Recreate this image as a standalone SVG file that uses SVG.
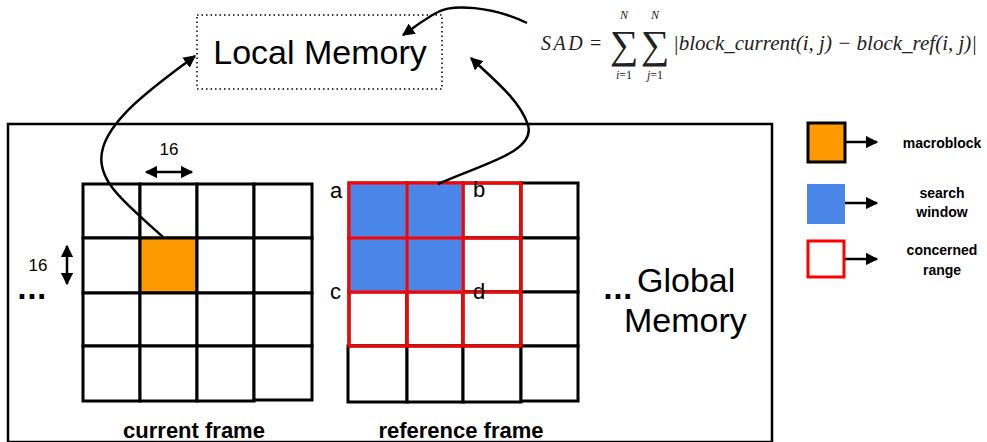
<svg xmlns="http://www.w3.org/2000/svg" width="987" height="442" viewBox="0 0 987 442">
  <style>
    .cell { fill: #ffffff; stroke: #000000; stroke-width: 3; }
    .red { fill: none; stroke: #ff0000; stroke-width: 3; }
    .conn { fill: none; stroke: #000000; stroke-width: 2.5; }
    .sans { font-family: "Liberation Sans", Arial, sans-serif; fill: #000000; }
    .bold { font-weight: bold; }
    .dots { font-family: "DejaVu Sans", "Liberation Sans", sans-serif; font-weight: bold; font-size: 26px; }
    .math { font-family: "Liberation Serif", "Times New Roman", serif; fill: #222222; }
  </style>
  <defs>
    <marker id="arrow" viewBox="0 0 10 10" refX="9" refY="5" markerWidth="5" markerHeight="5" orient="auto-start-reverse" markerUnits="strokeWidth">
      <path d="M0,0 L10,5 L0,10 Z" fill="#000000"/>
    </marker>
  </defs>
  <rect width="987" height="442" fill="#ffffff"/>

  <!-- Global memory outline -->
  <g id="global-memory">
    <rect x="8" y="124" width="764" height="318" fill="none" stroke="#000000" stroke-width="2.5"/>
    <text class="dots" x="603" y="299">...</text>
    <text class="sans" x="637" y="292" font-size="34">Global</text>
    <text class="sans" x="624" y="332" font-size="34">Memory</text>
  </g>

  <!-- Local memory (dotted) -->
  <g id="local-memory">
    <rect x="197" y="15" width="245" height="74" fill="none" stroke="#000000" stroke-width="1.5" stroke-dasharray="1.5 3"/>
    <text class="sans" x="320" y="64" font-size="34" text-anchor="middle">Local Memory</text>
  </g>

  <!-- Current frame: 4x4 grid of 16x16 blocks -->
  <g id="current-frame">
    <g>
      <rect class="cell" x="83" y="184" width="57" height="54"/>
      <rect class="cell" x="140" y="184" width="57" height="54"/>
      <rect class="cell" x="197" y="184" width="57" height="54"/>
      <rect class="cell" x="254" y="184" width="58" height="54"/>
      <rect class="cell" x="83" y="238" width="57" height="55"/>
      <rect class="cell" x="140" y="238" width="57" height="55" style="fill:#ff9900"/>
      <rect class="cell" x="197" y="238" width="57" height="55"/>
      <rect class="cell" x="254" y="238" width="58" height="55"/>
      <rect class="cell" x="83" y="293" width="57" height="53"/>
      <rect class="cell" x="140" y="293" width="57" height="53"/>
      <rect class="cell" x="197" y="293" width="57" height="53"/>
      <rect class="cell" x="254" y="293" width="58" height="53"/>
      <rect class="cell" x="83" y="346" width="57" height="55"/>
      <rect class="cell" x="140" y="346" width="57" height="55"/>
      <rect class="cell" x="197" y="346" width="57" height="55"/>
      <rect class="cell" x="254" y="346" width="58" height="54"/>
    </g>
    <text class="dots" x="17" y="299">...</text>
    <text class="sans" x="169" y="155" font-size="17" text-anchor="middle">16</text>
    <line x1="146" y1="172" x2="192" y2="172" stroke="#000" stroke-width="2.5" marker-start="url(#arrow)" marker-end="url(#arrow)"/>
    <text class="sans" x="38" y="271" font-size="17" text-anchor="middle">16</text>
    <line x1="67" y1="246" x2="67" y2="284" stroke="#000" stroke-width="2.5" marker-start="url(#arrow)" marker-end="url(#arrow)"/>
    <text class="sans bold" x="194" y="438" font-size="22" text-anchor="middle">current frame</text>
  </g>

  <!-- Reference frame: search window and concerned range -->
  <g id="reference-frame">
    <g>
      <rect class="cell" x="349" y="183" width="58" height="55"/>
      <rect class="cell" x="407" y="183" width="56" height="55"/>
      <rect class="cell" x="463" y="183" width="58" height="55"/>
      <rect class="cell" x="521" y="183" width="57" height="55"/>
      <rect class="cell" x="349" y="238" width="58" height="54"/>
      <rect class="cell" x="407" y="238" width="56" height="54"/>
      <rect class="cell" x="463" y="238" width="58" height="54"/>
      <rect class="cell" x="521" y="238" width="57" height="54"/>
      <rect class="cell" x="349" y="292" width="58" height="54"/>
      <rect class="cell" x="407" y="292" width="56" height="54"/>
      <rect class="cell" x="463" y="292" width="58" height="54"/>
      <rect class="cell" x="521" y="292" width="57" height="54"/>
      <rect class="cell" x="348" y="346" width="59" height="56"/>
      <rect class="cell" x="407" y="346" width="56" height="56"/>
      <rect class="cell" x="463" y="346" width="58" height="56"/>
      <rect class="cell" x="521" y="346" width="57" height="55"/>
    </g>
    <rect x="349" y="183" width="114" height="109" fill="#4a86e8"/>
    <g class="red">
      <rect x="349" y="183" width="172" height="163"/>
      <line x1="407" y1="183" x2="407" y2="346"/>
      <line x1="463" y1="183" x2="463" y2="346"/>
      <line x1="349" y1="238" x2="521" y2="238"/>
      <line x1="349" y1="292" x2="521" y2="292"/>
    </g>
    <text class="sans" x="330" y="198" font-size="22">a</text>
    <text class="sans" x="473" y="197" font-size="22">b</text>
    <text class="sans" x="330" y="299" font-size="22">c</text>
    <text class="sans" x="473" y="299" font-size="22">d</text>
    <text class="sans bold" x="461" y="438" font-size="22" text-anchor="middle">reference frame</text>
  </g>

  <!-- SAD formula -->
  <g id="sad-formula" class="math">
    <text x="541" y="50" font-size="20" font-style="italic" letter-spacing="2.5">SAD</text>
    <text x="590" y="50" font-size="20">=</text>
    <text x="624" y="58" font-size="40" text-anchor="middle">∑</text>
    <text x="624" y="19" font-size="12" font-style="italic" text-anchor="middle">N</text>
    <text x="624" y="79" font-size="12" text-anchor="middle"><tspan font-style="italic">i</tspan>=1</text>
    <text x="655" y="58" font-size="40" text-anchor="middle">∑</text>
    <text x="655" y="19" font-size="12" font-style="italic" text-anchor="middle">N</text>
    <text x="655" y="79" font-size="12" text-anchor="middle"><tspan font-style="italic">j</tspan>=1</text>
    <text x="673" y="50" font-size="21" font-style="italic">|block_current(i, j) − block_ref(i, j)|</text>
  </g>

  <!-- Legend -->
  <g id="legend-macroblock">
    <rect x="808" y="123" width="37" height="39" fill="#ff9900" stroke="#000" stroke-width="3"/>
    <line x1="845" y1="142" x2="877" y2="142" stroke="#000" stroke-width="2.5" marker-end="url(#arrow)"/>
    <text class="sans bold" x="942" y="148" font-size="14" text-anchor="middle">macroblock</text>
  </g>
  <g id="legend-search-window">
    <rect x="807" y="184" width="38" height="40" fill="#4a86e8"/>
    <line x1="845" y1="203" x2="877" y2="203" stroke="#000" stroke-width="2.5" marker-end="url(#arrow)"/>
    <text class="sans bold" x="942" y="198" font-size="14" text-anchor="middle">search</text>
    <text class="sans bold" x="942" y="217" font-size="14" text-anchor="middle">window</text>
  </g>
  <g id="legend-concerned-range">
    <rect x="808" y="241" width="36" height="36" fill="#ffffff" stroke="#ff0000" stroke-width="3"/>
    <line x1="845" y1="259" x2="877" y2="259" stroke="#000" stroke-width="2.5" marker-end="url(#arrow)"/>
    <text class="sans bold" x="942" y="255" font-size="14" text-anchor="middle">concerned</text>
    <text class="sans bold" x="942" y="275" font-size="14" text-anchor="middle">range</text>
  </g>

  <!-- Connectors -->
  <g id="connectors">
    <path class="conn" d="M163,237 C128,205 96,182 102,152 C108,118 160,82 195,56" marker-end="url(#arrow)"/>
    <path class="conn" d="M438,184 C482,164 536,152 528,125 C520,100 492,78 471,58" marker-end="url(#arrow)"/>
    <path class="conn" d="M527,23 C492,6 452,4 438,12 C426,18 416,26 403,35" marker-end="url(#arrow)"/>
  </g>
</svg>
